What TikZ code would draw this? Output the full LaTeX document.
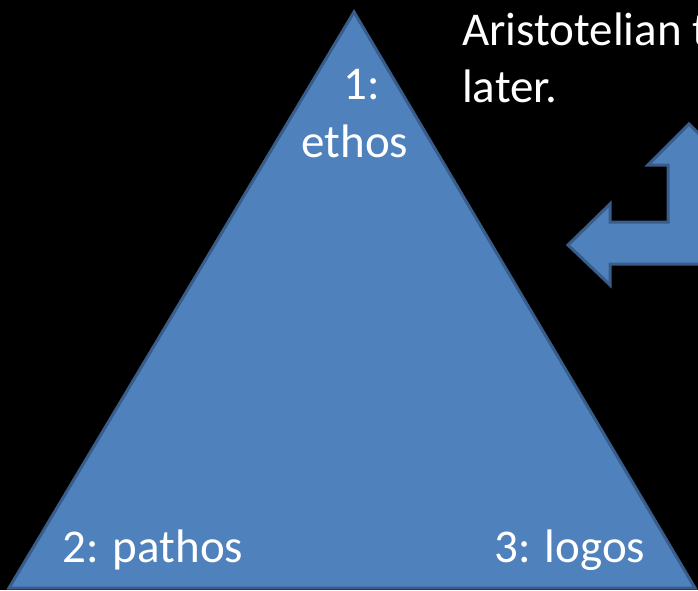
\documentclass[tikz,border=0pt]{standalone}
\usepackage{fontspec}
\setmainfont{Carlito}
\usepackage{tikz}
\usetikzlibrary{calc, positioning}
\definecolor{slideblue}{HTML}{4F81BD}
\definecolor{slideedge}{HTML}{385D8A}
\tikzstyle{bluepiece}=[fill=slideblue, draw=slideedge, line width=3pt, line join=miter]
\tikzstyle{word}=[text=white, inner sep=0pt, font=\fontsize{47}{57}\selectfont]

\begin{document}
\begin{tikzpicture}[x=1pt, y=-1pt]
\useasboundingbox (0,0) rectangle (698,590);
\fill[black] (0,0) rectangle (698,590);
\clip (0,0) rectangle (698,590);
\coordinate (top) at (354,12); \coordinate (left) at (9,588); \coordinate (right) at (695,588);
\draw [bluepiece] (top) -- (left) -- (right) -- cycle;
% bent arrow, partly off the page
\draw [bluepiece] (689,124) -- (730,165) -- (710,165) -- (710,264) -- (610,264) -- (610,285)
  -- (568,245) -- (610,204) -- (610,222) -- (668,222) -- (668,165) -- (648,165) -- cycle;
\tikzstyle{every node}=[word];
\node [anchor=base] (one) at (362,99) {1:};
\node [anchor=base] (ethos) at (355,157) {ethos};
\node [anchor=base west] (pathos) at (62,562) {2: pathos};
\node [anchor=base west] (logos) at (494,562) {3: logos};
\node [anchor=base west] (aris) at (462,45) {Aristotelian t};
\node [anchor=base west] (later) at (462,102) {later.};
\end{tikzpicture}
\end{document}
